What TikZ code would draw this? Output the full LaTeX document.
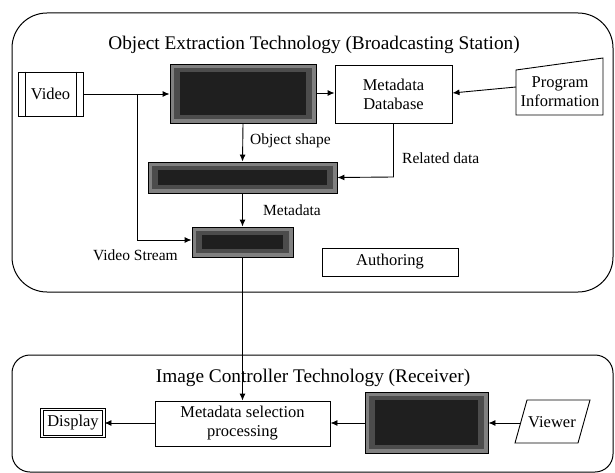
\documentclass[tikz,border=0pt]{standalone}
\usepackage{fontspec}
\setmainfont{Liberation Serif}
\usetikzlibrary{arrows.meta,calc}
\tikzset{
  frame/.style={draw, line width=1pt, rounded corners=#1},
  box/.style={draw, line width=0.9pt, inner sep=0pt, align=center, font=\fontsize{16.5}{19}\selectfont},
  darkbox/.style={draw, line width=0.9pt, fill=black!50, inner sep=0pt,
    path picture={\fill[black!70] ([xshift=4pt,yshift=-4pt]path picture bounding box.north west) rectangle ([xshift=-4pt,yshift=4pt]path picture bounding box.south east);
    \fill[black!88] ([xshift=10pt,yshift=-8pt]path picture bounding box.north west) rectangle ([xshift=-10pt,yshift=8pt]path picture bounding box.south east);}},
  arr/.style={line width=0.9pt, -{Latex[length=7pt,width=6pt]}},
  lbl/.style={font=\fontsize{15.5}{18}\selectfont, inner sep=0pt},
  ttl/.style={font=\fontsize{19.3}{22}\selectfont, inner sep=0pt}
}
\begin{document}
\begin{tikzpicture}[x=1pt,y=-1pt]
\useasboundingbox (0,0) rectangle (615,473);
% frames
\draw[frame=35] (12,13) rectangle (613,292);
\draw[frame=18] (12,355) rectangle (613,472);
\node[ttl] (t1) at (314,45) {Object Extraction Technology (Broadcasting Station)};
\node[ttl] (t2) at (313,378) {Image Controller Technology (Receiver)};
% top nodes
\node[box, minimum width=65pt, minimum height=44pt] (video) at (50.5,94) {Video};
\draw[line width=0.9pt] ([xshift=8pt]video.north west) -- ([xshift=8pt]video.south west);
\draw[line width=0.9pt] ([xshift=-7pt]video.north east) -- ([xshift=-7pt]video.south east);
\node[darkbox, minimum width=146pt, minimum height=59pt] (ext) at (243,93.5) {};
\node[box, minimum width=117pt, minimum height=58pt] (db) at (393.5,94) {Metadata\\Database};
\draw[line width=0.9pt] (516,70) -- (603,58) -- (603,115) -- (516,115) -- cycle;
\node[box, draw=none] (prog) at (560,92) {Program\\Information};
\coordinate (progin) at (516,87);
\node[darkbox, minimum width=189pt, minimum height=31pt] (gen) at (242.5,177.5) {};
\node[darkbox, minimum width=101pt, minimum height=30pt] (mux) at (242.5,242) {};
\node[box, minimum width=136pt, minimum height=28pt] (auth) at (390,262) {Authoring};
% bottom nodes
\node[box, minimum width=175pt, minimum height=45pt] (sel) at (242.5,423.5) {Metadata selection\\processing};
\node[darkbox, minimum width=123pt, minimum height=61pt] (ctrl) at (426.5,422.5) {};
\draw[line width=0.9pt] (515,443) -- (527,400) -- (590,400) -- (578,443) -- cycle;
\node[box, draw=none] (viewer) at (552,422) {Viewer};
\coordinate (viewin) at (521,423);
\node[box, double, double distance=1.4pt, line width=0.9pt, minimum width=62pt, minimum height=27pt] (disp) at (73,423) {Display};
% connectors
\coordinate (br) at (137,94);
\draw[arr] (video.east |- br) -- (ext.west |- br);
\draw[arr] (br) -- (137,240) -- (mux.west |- 0,240);
\draw[arr] (ext.east |- 0,93) -- (db.west |- 0,93);
\draw[arr] (progin) -- (db.east |- 0,93);
\draw[arr] (ext.south) -- (gen.north);
\node[lbl, anchor=west] (los) at (250,141) {Object shape};
\draw[arr] (db.south) -- (db.south |- 0,177) -- (gen.east);
\node[lbl, anchor=west] (lrd) at (402,158) {Related data};
\draw[arr] (gen.south) -- (mux.north);
\node[lbl, anchor=west] (lmd) at (263,210) {Metadata};
\node[lbl, anchor=east] (lvs) at (178,255) {Video Stream};
\draw[arr] (mux.south) -- (sel.north);
\draw[arr] (viewin) -- (ctrl.east |- viewin);
\draw[arr] (ctrl.west |- 0,423) -- (sel.east |- 0,423);
\draw[arr] (sel.west |- 0,423) -- (disp.east |- 0,423);
\end{tikzpicture}
\end{document}
